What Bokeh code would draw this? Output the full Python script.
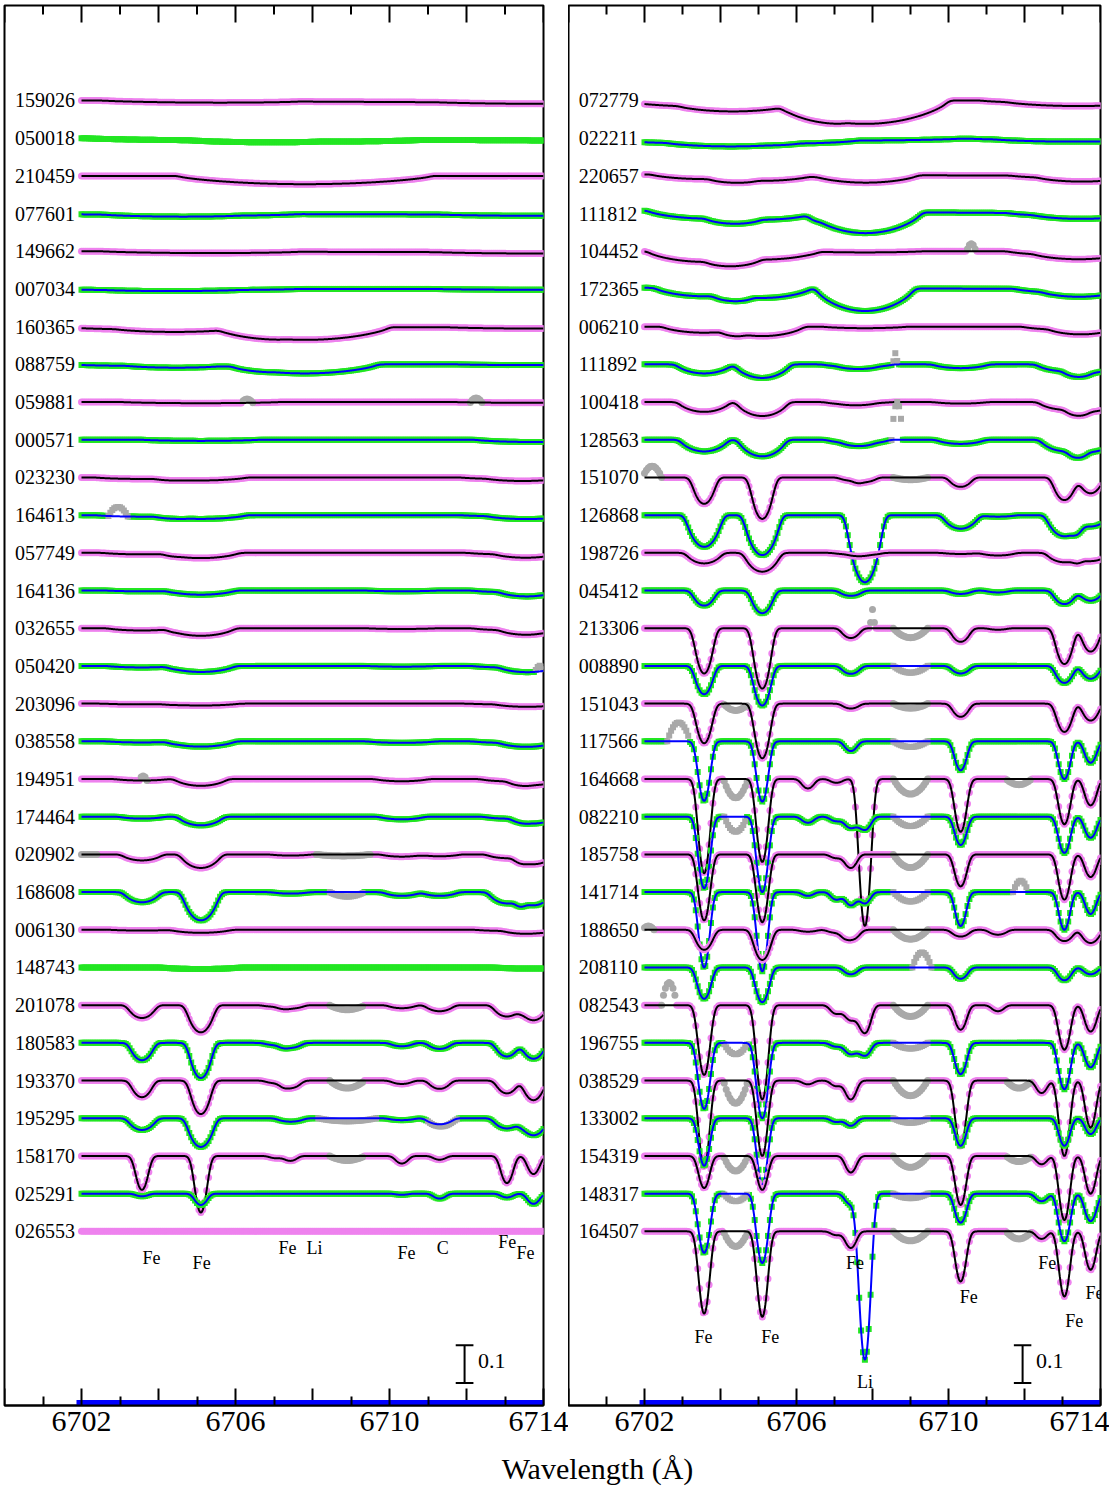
import numpy as np
from bokeh.plotting import figure
from bokeh.models import Range1d, LinearAxis, FixedTicker, Label
from bokeh.layouts import row, column
from bokeh.embed import file_html
from bokeh.resources import INLINE

# ---------------------------------------------------------------- data
# Rest wavelengths of the lines used in the synthetic fits (Angstrom)
line_waves = [6703.57, 6705.10, 6706.30, 6707.05, 6707.43, 6707.80,
              6710.32, 6711.30, 6712.45, 6713.05, 6713.74]

# ---- left panel (broad / weak-lined stars)
left_ids = ["159026", "050018", "210459", "077601", "149662", "007034", "160365",
            "088759", "059881", "000571", "023230", "164613", "057749", "164136",
            "032655", "050420", "203096", "038558", "194951", "174464", "020902",
            "168608", "006130", "148743", "201078", "180583", "193370", "195295",
            "158170", "025291", "026553"]
# rotational half-width of the profiles (Angstrom)
left_vbroad = [2.5, 3.0, 3.3, 2.5, 2.5, 2.5, 2.2, 1.9, 2.0, 1.5, 1.2, 1.2, 1.0, 0.9,
               0.9, 0.9, 1.0, 0.9, 0.7, 0.6, 0.55, 0.5, 0.8, 1.0, 0.4, 0.35, 0.33,
               0.4, 0.22, 0.22, 1.0]
# central line depths, one row per star, columns follow line_waves
left_depths = [
    [0, 0.004, 0, 0, 0, 0, 0, 0, 0, 0, 0.003],
    [0, 0.004, 0, 0, 0, 0.006, 0, 0, 0, 0, 0],
    [0, 0, 0, 0, 0, 0.022, 0, 0, 0, 0, 0],
    [0.003, 0.005, 0, 0, 0, 0, 0, 0, 0, 0, 0.003],
    [0, 0.004, 0, 0, 0, 0, 0, 0, 0, 0, 0.003],
    [0.003, 0.003, 0, 0, 0, 0, 0, 0, 0, 0, 0.002],
    [0.007, 0.008, 0, 0, 0, 0.034, 0, 0, 0, 0, 0.003],
    [0.004, 0.006, 0, 0, 0, 0.024, 0, 0, 0, 0, 0.002],
    [0, 0.003, 0, 0, 0, 0, 0, 0, 0, 0, 0.002],
    [0, 0.003, 0, 0, 0, 0, 0, 0, 0, 0, 0.006],
    [0.004, 0.008, 0, 0, 0, 0, 0, 0, 0, 0.004, 0.006],
    [0.004, 0.010, 0, 0, 0, 0, 0, 0, 0, 0.003, 0.008],
    [0.004, 0.014, 0, 0, 0, 0, 0, 0, 0, 0.004, 0.010],
    [0.002, 0.011, 0, 0, 0, 0, 0.002, 0, 0, 0.004, 0.013],
    [0.006, 0.020, 0, 0, 0, 0, 0.002, 0, 0, 0.005, 0.014],
    [0.004, 0.016, 0, 0, 0, 0, 0.002, 0, 0, 0.004, 0.014],
    [0.002, 0.005, 0, 0, 0, 0, 0, 0, 0, 0.002, 0.007],
    [0.003, 0.014, 0, 0, 0, 0, 0.004, 0, 0, 0.004, 0.012],
    [0.004, 0.018, 0, 0, 0, 0, 0.006, 0, 0, 0.006, 0.016],
    [0.005, 0.023, 0, 0, 0, 0, 0.007, 0, 0, 0.005, 0.018],
    [0.016, 0.036, 0, 0, 0.003, 0, 0.006, 0.005, 0, 0.010, 0.026],
    [0.027, 0.075, 0, 0, 0.004, 0, 0.010, 0.010, 0, 0.030, 0.035],
    [0.002, 0.008, 0, 0, 0, 0, 0, 0, 0, 0.003, 0.009],
    [0, 0.004, 0, 0, 0, 0, 0, 0, 0, 0, 0.003],
    [0.034, 0.072, 0, 0.004, 0.009, 0, 0.008, 0.016, 0, 0.030, 0.040],
    [0.046, 0.093, 0, 0.006, 0.013, 0, 0.009, 0.016, 0, 0.036, 0.042],
    [0.044, 0.089, 0, 0.007, 0.020, 0, 0.009, 0.022, 0, 0.034, 0.052],
    [0.031, 0.076, 0, 0, 0.009, 0, 0.005, 0.016, 0, 0.027, 0.045],
    [0.090, 0.150, 0, 0.006, 0.013, 0, 0.020, 0.010, 0, 0.072, 0.048],
    [0.007, 0.030, 0, 0, 0, 0, 0.003, 0.013, 0, 0.010, 0.027],
    [0, 0, 0, 0, 0, 0, 0, 0, 0, 0, 0],
]
# continuum offsets at 6702 and 6714
left_cont_blue = [0] * 31
left_cont_red = [-0.006, -0.006, 0, -0.003, -0.003, 0, -0.002, 0, 0, 0, 0, 0, 0, 0,
                 0, 0, 0, 0, 0, 0, 0, 0, 0, 0, 0, 0, 0, 0, 0, 0, 0]
left_fitted = [True] * 31
left_fitted[1] = left_fitted[23] = left_fitted[30] = False
# masked (grey) stretches: star index -> (centre, half-width, extra depth)
left_masked = {
    8: [(6706.3, 0.15, -0.010), (6712.25, 0.15, -0.012)],
    11: [(6702.95, 0.25, -0.025)],
    15: [(6713.9, 0.12, -0.015)],
    18: [(6703.6, 0.10, -0.012)],
    20: [(6702.2, 0.22, 0.0), (6708.8, 0.70, 0.004)],
    21: [(6708.9, 0.45, 0.012)],
    24: [(6708.9, 0.45, 0.012)],
    26: [(6708.9, 0.45, 0.020)],
    27: [(6708.9, 0.75, 0.008), (6711.4, 0.40, 0.006)],
    28: [(6708.9, 0.45, 0.012)],
}

# ---- right panel (Li-rich candidates, sharper lines)
right_ids = ["072779", "022211", "220657", "111812", "104452", "172365", "006210",
             "111892", "100418", "128563", "151070", "126868", "198726", "045412",
             "213306", "008890", "151043", "117566", "164668", "082210", "185758",
             "141714", "188650", "208110", "082543", "196755", "038529", "133002",
             "154319", "148317", "164507"]
right_vbroad = [2.2, 2.5, 1.4, 1.5, 1.5, 1.3, 1.1, 0.75, 0.7, 0.65, 0.35, 0.5, 0.5,
                0.35, 0.3, 0.3, 0.28, 0.22, 0.22, 0.22, 0.22, 0.2, 0.3, 0.25, 0.22,
                0.22, 0.2, 0.2, 0.2, 0.22, 0.2]
right_depths = [
    [0.016, 0.016, 0, 0, 0, 0.062, 0, 0, 0, 0.007, 0.008],
    [0.010, 0.010, 0, 0, 0, 0.004, 0, 0, 0, 0.004, 0.005],
    [0.012, 0.016, 0, 0, 0, 0.020, 0, 0, 0, 0.006, 0.010],
    [0.020, 0.022, 0, 0, 0, 0.056, 0, 0, 0, 0.007, 0.008],
    [0.028, 0.022, 0, 0, 0, 0.003, 0, 0, 0, 0.010, 0.012],
    [0.022, 0.026, 0, 0, 0, 0.060, 0, 0, 0, 0.010, 0.012],
    [0.016, 0.025, 0, 0, 0, 0.004, 0, 0, 0, 0.008, 0.014],
    [0.024, 0.036, 0, 0, 0.006, 0.007, 0.010, 0, 0, 0.018, 0.022],
    [0.026, 0.037, 0, 0, 0.006, 0.003, 0.004, 0, 0, 0.020, 0.025],
    [0.031, 0.044, 0, 0, 0.008, 0.010, 0.011, 0, 0, 0.030, 0.032],
    [0.070, 0.110, 0, 0, 0.008, 0.012, 0.025, 0, 0, 0.060, 0.042],
    [0.084, 0.106, 0, 0, 0, 0.178, 0.036, 0.004, 0, 0.056, 0.030],
    [0.028, 0.050, 0, 0, 0.004, 0.006, 0.003, 0.007, 0, 0.025, 0.022],
    [0.040, 0.060, 0, 0, 0.014, 0, 0.009, 0.005, 0, 0.036, 0.027],
    [0.120, 0.160, 0, 0, 0.026, 0, 0.036, 0.004, 0, 0.095, 0.062],
    [0.075, 0.105, 0, 0, 0.021, 0, 0.020, 0, 0, 0.045, 0.034],
    [0.105, 0.145, 0, 0, 0.013, 0, 0.035, 0, 0, 0.075, 0.045],
    [0.158, 0.160, 0, 0, 0.026, 0, 0.077, 0, 0, 0.100, 0.057],
    [0.250, 0.220, 0.025, 0.010, 0, 0.390, 0.140, 0, 0, 0.120, 0.070],
    [0.190, 0.200, 0.016, 0.012, 0.030, 0.035, 0.075, 0, 0, 0.096, 0.056],
    [0.175, 0.180, 0, 0.010, 0.036, 0, 0.085, 0, 0, 0.120, 0.060],
    [0.200, 0.210, 0.010, 0.020, 0.035, 0.030, 0.090, 0, 0, 0.100, 0.058],
    [0.053, 0.080, 0.005, 0.008, 0.027, 0, 0.018, 0.013, 0, 0.030, 0.035],
    [0.083, 0.092, 0, 0, 0.018, 0, 0.030, 0, 0, 0.034, 0.018],
    [0.185, 0.250, 0, 0.023, 0.040, 0.074, 0.065, 0.016, 0, 0.118, 0.070],
    [0.175, 0.200, 0, 0.010, 0.030, 0.034, 0.083, 0, 0, 0.123, 0.065],
    [0.230, 0.200, 0.010, 0.015, 0.050, 0, 0.175, 0, 0.033, 0.200, 0.125],
    [0.126, 0.175, 0, 0.010, 0.020, 0, 0.073, 0, 0, 0.073, 0.042],
    [0.085, 0.090, 0, 0, 0.044, 0, 0.130, 0, 0.022, 0.170, 0.100],
    [0.157, 0.184, 0, 0, 0.028, 0.440, 0.077, 0, 0.020, 0.126, 0.073],
    [0.218, 0.227, 0, 0.010, 0.044, 0, 0.133, 0, 0.020, 0.173, 0.102],
]
right_cont_blue = [0, -0.004, 0.004, 0.008, 0, 0.003, 0, 0, 0, 0, 0, 0, 0, 0, 0, 0,
                   0, 0, 0, 0, 0, 0, 0, 0, 0, 0, 0, 0, 0, 0, 0]
right_cont_red = [0] * 31
right_fitted = [True] * 31
right_masked = {
    4: [(6710.6, 0.12, -0.020)],
    7: [(6708.6, 0.06, -0.030)],
    9: [(6708.65, 0.15, -0.100)],
    10: [(6702.2, 0.25, -0.030), (6709.0, 0.45, 0.006)],
    14: [(6708.0, 0.06, -0.050), (6709.0, 0.45, 0.025)],
    15: [(6709.0, 0.45, 0.018)],
    16: [(6704.4, 0.32, 0.018), (6709.0, 0.45, 0.012)],
    17: [(6702.9, 0.30, -0.050), (6709.0, 0.45, 0.015)],
    18: [(6704.4, 0.32, 0.050), (6709.0, 0.45, 0.040), (6711.85, 0.33, 0.015)],
    19: [(6704.4, 0.30, 0.040), (6709.0, 0.45, 0.025)],
    20: [(6709.0, 0.45, 0.035)],
    21: [(6709.0, 0.45, 0.025), (6711.9, 0.20, -0.030)],
    22: [(6702.1, 0.15, -0.010), (6709.0, 0.45, 0.025)],
    23: [(6709.3, 0.25, -0.040)],
    24: [(6702.65, 0.20, -0.060), (6709.0, 0.45, 0.030)],
    25: [(6704.4, 0.32, 0.030), (6709.0, 0.45, 0.015)],
    26: [(6704.4, 0.32, 0.060), (6709.0, 0.45, 0.040), (6711.85, 0.33, 0.020)],
    27: [(6709.0, 0.45, 0.012)],
    28: [(6704.4, 0.32, 0.040), (6709.0, 0.45, 0.030), (6711.85, 0.33, 0.015)],
    29: [(6704.4, 0.32, 0.020), (6709.0, 0.45, 0.012)],
    30: [(6704.4, 0.32, 0.040), (6709.0, 0.45, 0.025), (6711.85, 0.33, 0.020)],
}

# line identifications written under the stacks: (text, wavelength, flux level)
left_idents = [("Fe", 6703.82, -2.072), ("Fe", 6705.12, -2.085), ("Fe", 6707.35, -2.045),
               ("Li", 6708.05, -2.045), ("Fe", 6710.44, -2.058), ("C", 6711.38, -2.045),
               ("Fe", 6713.06, -2.029), ("Fe", 6713.53, -2.058)]
right_idents = [("Fe", 6703.55, -2.281), ("Fe", 6705.31, -2.281), ("Li", 6707.80, -2.400),
                ("Fe", 6707.54, -2.085), ("Fe", 6710.53, -2.175), ("Fe", 6712.60, -2.085),
                ("Fe", 6713.31, -2.239), ("Fe", 6713.84, -2.164)]

ROW_STEP = 0.1
X_START, X_END = 6700.0, 6714.0
Y_START, Y_END = -2.462, 1.252
PX = (Y_END - Y_START) / 1400.0          # data units per screen pixel (vertical)

PINK, GREEN, GREY = "#EE82EE", "#22E622", "#A9A9A9"
SERIF = "Liberation Serif"


def unit_profile(vb, sigma=0.08):
    """Peak-normalised line profile: rotation kernel convolved with a Gaussian."""
    d = np.arange(-6.0, 6.0 + 1e-9, 0.005)
    g = np.exp(-0.5 * (d / sigma) ** 2)
    x = d / vb
    eps = 0.6
    inside = np.abs(x) < 1
    k = np.zeros_like(d)
    k[inside] = (2 * (1 - eps) * np.sqrt(1 - x[inside] ** 2)
                 + 0.5 * np.pi * eps * (1 - x[inside] ** 2))
    prof = np.convolve(k, g, mode="same")
    return d, prof / prof.max()


def spectrum(lam, vb, depths, c_blue, c_red):
    d, prof = unit_profile(vb)
    flux = 1.0 + c_blue + (c_red - c_blue) * (lam - 6702.0) / 12.0
    for w0, dep in zip(line_waves, depths):
        if dep:
            flux = flux - dep * np.interp(lam - w0, d, prof, left=0.0, right=0.0)
    return flux


def make_panel(ids, vbroad, depths, cont_blue, cont_red, fitted, masked, idents,
               border_left, border_right, frame_w):
    p = figure(output_backend="svg", toolbar_location=None,
               frame_width=frame_w, frame_height=1400,
               x_range=Range1d(X_START, X_END), y_range=Range1d(Y_START, Y_END),
               min_border_left=border_left, min_border_right=border_right,
               min_border_top=5, min_border_bottom=42,
               x_axis_location=None, y_axis_location=None)
    p.grid.visible = False
    p.outline_line_color = "black"
    p.outline_line_width = 2
    p.background_fill_color = "white"
    p.border_fill_color = "white"

    # labelled wavelength axis; odd Angstroms get the short inward ticks
    ax = LinearAxis(ticker=FixedTicker(ticks=[6702, 6706, 6710, 6714],
                                       minor_ticks=list(range(6701, 6714, 2))))
    ax.major_tick_in = 17
    ax.major_tick_out = 0
    ax.minor_tick_in = 9
    ax.minor_tick_out = 0
    ax.major_tick_line_width = 2
    ax.minor_tick_line_width = 2
    ax.axis_line_width = 2
    ax.major_label_text_font = SERIF
    ax.major_label_text_font_size = "30px"
    ax.major_label_text_color = "black"
    ax.major_label_standoff = 6
    p.add_layout(ax, "below")

    # remaining inward ticks: long ones every 2 A at the bottom, full set on top
    long_b = [6700, 6704, 6708, 6712]
    long_t = list(range(6700, 6715, 2))
    short_t = list(range(6701, 6714, 2))
    tl, ts = 17 * PX, 9 * PX
    p.segment(x0=long_b, y0=[Y_START] * 4, x1=long_b, y1=[Y_START + tl] * 4,
              line_color="black", line_width=2)
    p.segment(x0=long_t, y0=[Y_END] * len(long_t), x1=long_t,
              y1=[Y_END - tl] * len(long_t), line_color="black", line_width=2)
    p.segment(x0=short_t, y0=[Y_END] * len(short_t), x1=short_t,
              y1=[Y_END - ts] * len(short_t), line_color="black", line_width=2)

    lam_obs = np.round(np.arange(6702.0, 6714.0001, 0.05), 3)
    lam_fit = np.round(np.arange(6702.0, 6714.0001, 0.01), 3)

    for i, sid in enumerate(ids):
        shift = -ROW_STEP * i
        pink_row = (i % 2 == 0)
        obs = spectrum(lam_obs, vbroad[i], depths[i], cont_blue[i], cont_red[i])
        grey = np.zeros(lam_obs.size, dtype=bool)
        for c, hw, extra in masked.get(i, []):
            sel = np.abs(lam_obs - c) <= hw
            obs[sel] = obs[sel] - extra * (1 - ((lam_obs[sel] - c) / hw) ** 2)
            grey |= sel
        y_obs = obs + shift
        marker = "circle" if pink_row else "square"
        colour = PINK if pink_row else GREEN
        size = 7 if pink_row else 6
        p.scatter(lam_obs[~grey], y_obs[~grey], marker=marker, size=size,
                  fill_color=colour, line_color=None)
        if grey.any():
            p.scatter(lam_obs[grey], y_obs[grey], marker=marker, size=size,
                      fill_color=GREY, line_color=None)
        if fitted[i]:
            fit = spectrum(lam_fit, vbroad[i], depths[i], cont_blue[i], cont_red[i])
            p.line(lam_fit, fit + shift, line_color="black" if pink_row else "#0000FF",
                   line_width=2)

        p.add_layout(Label(x=X_START + 0.27, y=1.0 + shift, text=sid,
                           text_font=SERIF, text_font_size="20px",
                           text_align="left", text_baseline="middle",
                           text_color="black"))

    for txt, lx, ly in idents:
        p.add_layout(Label(x=lx, y=ly, text=txt, text_font=SERIF,
                           text_font_size="18px", text_align="center",
                           text_baseline="middle", text_color="black"))

    # 0.1 flux scale bar
    bx = 6711.95
    p.segment(x0=[bx, bx - 0.23, bx - 0.23], y0=[-2.302, -2.302, -2.402],
              x1=[bx, bx + 0.23, bx + 0.23], y1=[-2.402, -2.302, -2.402],
              line_color="black", line_width=2)
    p.add_layout(Label(x=bx + 0.35, y=-2.345, text="0.1", text_font=SERIF,
                       text_font_size="22px", text_align="left",
                       text_baseline="middle", text_color="black"))

    # blue rule along the wavelength axis
    p.line([6701.87, 6714.3], [Y_START + 3 * PX, Y_START + 3 * PX],
           line_color="#0000FF", line_width=5)
    return p


p_left = make_panel(left_ids, left_vbroad, left_depths, left_cont_blue, left_cont_red,
                    left_fitted, left_masked, left_idents, 4, 25, 539)
p_right = make_panel(right_ids, right_vbroad, right_depths, right_cont_blue,
                     right_cont_red, right_fitted, right_masked, right_idents, 0, 9, 532)

p_title = figure(output_backend="svg", toolbar_location=None, width=1109, height=41,
                 x_range=Range1d(0, 1109), y_range=Range1d(0, 41),
                 min_border=0, x_axis_location=None, y_axis_location=None)
p_title.grid.visible = False
p_title.outline_line_color = None
p_title.add_layout(Label(x=597, y=20, text="Wavelength (Å)", text_font=SERIF,
                         text_font_size="30px", text_align="center",
                         text_baseline="middle", text_color="black"))

layout = column(row(p_left, p_right), p_title)
open("out.html", "w").write(file_html(layout, INLINE))
